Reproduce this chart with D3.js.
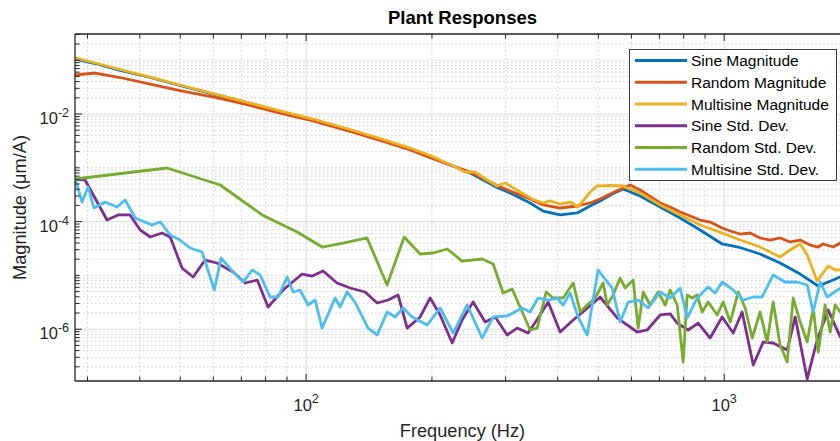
<!DOCTYPE html>
<html>
<head>
<meta charset="utf-8">
<script src="https://cdn.jsdelivr.net/npm/d3@7"></script>
<style>
  html, body { margin: 0; padding: 0; background: #fff; }
  svg { display: block; font-family: "Liberation Sans", Arial, Helvetica, sans-serif; }
</style>
</head>
<body>
<svg id="chart" width="840" height="441"></svg>
<script>
// ---- Data: frequency (Hz) and magnitude (um/A) ----
const magFreqSine = [28.0, 31.3, 35.9, 42.4, 49.9, 60.6, 73.5, 86.7, 103.9, 127.4, 150.3, 177.4, 198, 221.1, 246.9, 268.1, 286.3, 307.6, 343.5, 369, 405.3, 445, 478, 505, 539.7, 573.4, 629.5, 703, 784.9, 876.3, 989, 1081, 1219, 1361, 1520, 1679, 1774, 1895, 2001];
const magSine = [1.05e-1, 8.68e-2, 6.44e-2, 4.77e-2, 3.39e-2, 2.30e-2, 1.57e-2, 1.11e-2, 7.74e-3, 5.04e-3, 3.43e-3, 2.24e-3, 1.59e-3, 1.13e-3, 8.01e-4, 5.69e-4, 4.30e-4, 3.40e-4, 2.22e-4, 1.57e-4, 1.33e-4, 1.45e-4, 1.95e-4, 2.42e-4, 3.26e-4, 4.04e-4, 2.99e-4, 1.87e-4, 1.17e-4, 6.98e-5, 3.84e-5, 3.37e-5, 2.50e-5, 1.70e-5, 1.06e-5, 6.36e-6, 7.54e-6, 9.34e-6, 1.06e-5];

const magFreqRandom = [28.0, 31.3, 35.9, 42.4, 49.9, 60.6, 73.5, 86.7, 103.9, 127.4, 150.3, 177.4, 198, 221.1, 246.9, 268.1, 286.3, 307.6, 343.5, 369, 405.3, 445, 478, 505, 539.7, 573.4, 595.8, 629.5, 703, 742.8, 784.9, 829.2, 876.3, 925.7, 989, 1034, 1092, 1154, 1219, 1288, 1361, 1438, 1520, 1606, 1679, 1725, 1823, 1895, 2001];
const magRandom = [5.31e-2, 5.78e-2, 4.77e-2, 3.61e-2, 2.73e-2, 2.03e-2, 1.44e-2, 1.04e-2, 7.41e-3, 4.73e-3, 3.22e-3, 2.14e-3, 1.55e-3, 1.13e-3, 8.36e-4, 6.06e-4, 4.69e-4, 3.71e-4, 2.63e-4, 2.04e-4, 1.79e-4, 1.95e-4, 2.22e-4, 2.63e-4, 3.40e-4, 4.21e-4, 4.79e-4, 3.87e-4, 2.22e-4, 1.87e-4, 1.51e-4, 1.27e-4, 1.07e-4, 9.83e-5, 7.61e-5, 6.69e-5, 5.88e-5, 6.14e-5, 4.96e-5, 4.55e-5, 4.96e-5, 4.18e-5, 4.55e-5, 3.67e-5, 3.37e-5, 3.84e-5, 3.37e-5, 4.00e-5, 3.67e-5];

const magFreqMulti = [28.0, 31.3, 35.9, 42.4, 49.9, 60.6, 73.5, 86.7, 103.9, 127.4, 150.3, 177.4, 198, 221.1, 240.2, 253.7, 271, 286.3, 299.2, 325.1, 347.3, 369, 383.5, 405.3, 428.1, 447.3, 478, 496.8, 533.7, 573.4, 629.5, 703, 784.9, 876.3, 989, 1092, 1219, 1361, 1438, 1520, 1580, 1669, 1774, 1843, 2001];
const magMulti = [1.11e-1, 8.87e-2, 6.72e-2, 4.87e-2, 3.46e-2, 2.35e-2, 1.60e-2, 1.14e-2, 8.07e-3, 5.15e-3, 3.51e-3, 2.33e-3, 1.69e-3, 1.15e-3, 8.36e-4, 8.36e-4, 5.93e-4, 4.59e-4, 5.22e-4, 3.55e-4, 2.63e-4, 2.22e-4, 2.42e-4, 2.12e-4, 2.31e-4, 1.87e-4, 3.55e-4, 4.59e-4, 4.69e-4, 4.59e-4, 3.40e-4, 2.04e-4, 1.33e-4, 8.65e-5, 6.14e-5, 4.55e-5, 3.37e-5, 2.20e-5, 2.97e-5, 3.84e-5, 2.39e-5, 7.87e-6, 1.50e-5, 1.26e-5, 1.26e-5];

const stdFreqSine = [28.0, 29.6, 33.4, 35.5, 37.9, 40.1, 42.4, 45.2, 47.3, 50.5, 53.7, 57.3, 61.2, 66.9, 71.5, 76.4, 81.1, 88.1, 97.8, 103.4, 109.8, 118.6, 127.4, 138.4, 147.9, 157.1, 166.0, 174.5, 187.4, 198.0, 209.2, 223.6, 236.1, 250.9, 268.1, 283.3, 302.6, 319.8, 339.7, 358.9, 379.3, 405.3, 435.4, 465.1, 505.0, 554.6, 619.3, 654.5, 703.0, 742.8, 772.1, 820.2, 866.6, 925.7, 989.0, 1051, 1104, 1174, 1240, 1310, 1415, 1479, 1580, 1669, 1774, 1895, 2001];
const stdSine = [6.19e-4, 5.93e-4, 1.07e-4, 1.33e-4, 1.33e-4, 6.98e-5, 5.17e-5, 6.14e-5, 5.17e-5, 1.37e-5, 9.34e-6, 1.93e-5, 1.70e-5, 1.16e-5, 7.23e-6, 8.21e-6, 2.59e-6, 5.36e-6, 1.06e-5, 9.75e-6, 1.21e-5, 7.23e-6, 5.83e-6, 4.92e-6, 3.07e-6, 3.49e-6, 4.32e-6, 1.05e-6, 1.69e-6, 3.80e-6, 1.84e-6, 5.54e-7, 1.48e-6, 3.20e-6, 1.36e-6, 1.69e-6, 7.80e-7, 1.05e-6, 8.50e-7, 1.62e-6, 3.20e-6, 8.87e-7, 1.48e-6, 2.28e-6, 3.97e-6, 1.62e-6, 8.87e-7, 9.67e-7, 1.84e-6, 1.92e-6, 1.30e-6, 9.67e-7, 1.30e-6, 6.86e-7, 1.69e-6, 8.50e-7, 2.09e-6, 2.16e-7, 5.78e-7, 5.54e-7, 4.11e-7, 1.69e-6, 1.19e-7, 6.30e-7, 2.28e-6, 7.16e-7, 9.67e-7];

const stdFreqRandom = [28.0, 46.5, 62.3, 78.5, 95.2, 109.2, 122.6, 139.9, 156.2, 171.6, 187.4, 201.3, 217.5, 236.1, 263.7, 280.2, 296.0, 311.1, 343.5, 357.0, 375.1, 389.9, 412.0, 435.4, 452.5, 470.2, 491.3, 513.5, 525.0, 542.6, 563.9, 579.7, 605.8, 622.7, 640.1, 665.3, 695.3, 722.6, 742.8, 772.1, 797.9, 815.7, 838.4, 861.8, 885.9, 915.6, 962.3, 994.5, 1034, 1081, 1123, 1167, 1219, 1267, 1310, 1361, 1415, 1463, 1520, 1580, 1633, 1679, 1744, 1793, 1843, 1895, 2001];
const stdRandom = [6.19e-4, 9.92e-4, 4.79e-4, 1.33e-4, 6.41e-5, 3.37e-5, 4.00e-5, 4.96e-5, 6.63e-6, 5.17e-5, 2.50e-5, 2.61e-5, 3.10e-5, 1.85e-5, 2.02e-5, 1.63e-5, 4.71e-6, 5.59e-6, 9.67e-7, 1.05e-6, 4.92e-6, 3.80e-6, 3.80e-6, 7.23e-6, 2.09e-6, 2.82e-6, 3.80e-6, 7.23e-6, 2.82e-6, 4.32e-6, 8.95e-6, 5.83e-6, 8.21e-6, 1.05e-6, 4.92e-6, 2.82e-6, 4.92e-6, 2.82e-6, 5.36e-6, 2.82e-6, 2.46e-7, 4.32e-6, 3.80e-6, 4.32e-6, 2.09e-6, 3.20e-6, 1.84e-6, 3.20e-6, 1.36e-6, 4.92e-6, 2.48e-6, 6.86e-7, 2.09e-6, 5.78e-7, 3.20e-6, 5.09e-7, 2.46e-7, 3.80e-6, 1.36e-6, 5.78e-7, 2.48e-6, 3.77e-7, 2.82e-6, 8.87e-7, 2.82e-6, 2.09e-6, 3.49e-6];

const stdFreqMulti = [28.0, 29.1, 30.1, 31.1, 33.0, 35.3, 36.9, 39.0, 42.8, 44.8, 47.3, 49.9, 52.8, 56.4, 60.3, 62.6, 66.9, 70.7, 74.3, 77.6, 82.0, 85.7, 90.1, 93.1, 96.7, 101.1, 105.1, 109.2, 117.3, 120.6, 125.3, 130.9, 140.7, 147.9, 156.2, 163.3, 170.7, 179.3, 194.8, 209.2, 224.8, 242.8, 263.7, 280.2, 302.6, 328.7, 343.5, 358.9, 379.3, 398.6, 412.0, 428.1, 447.3, 470.2, 499.4, 539.7, 563.9, 589.3, 622.7, 658.1, 703.0, 742.8, 784.9, 815.7, 861.8, 915.6, 951.7, 989.0, 1051, 1111, 1174, 1233, 1310, 1399, 1495, 1580, 1633, 1697, 1764, 1823, 1895, 2001];
const stdMulti = [6.46e-4, 2.31e-4, 4.40e-4, 1.79e-4, 2.31e-4, 1.87e-4, 2.52e-4, 1.17e-4, 8.65e-5, 9.83e-5,
  5.64e-5, 4.55e-5, 3.23e-5, 2.72e-5, 5.36e-6, 2.11e-5, 1.16e-5, 7.54e-6, 1.26e-5, 1.02e-5,
  3.97e-6, 3.97e-6, 9.34e-6, 4.92e-6, 5.36e-6, 2.82e-6, 3.49e-6, 1.05e-6, 3.80e-6, 2.59e-6,
  4.92e-6, 3.20e-6, 1.05e-6, 7.80e-7, 2.09e-6, 1.69e-6, 2.48e-6, 1.69e-6, 1.20e-6, 2.48e-6,
  8.50e-7, 2.82e-6, 6.86e-7, 1.69e-6, 1.76e-6, 2.48e-6, 2.09e-6, 3.80e-6, 3.49e-6, 3.80e-6,
  2.82e-6, 4.71e-6, 1.69e-6, 7.80e-7, 1.26e-5, 5.83e-6, 1.36e-6, 3.20e-6, 3.49e-6, 2.48e-6,
  4.92e-6, 3.80e-6, 5.83e-6, 1.62e-6, 3.80e-6, 6.09e-6, 4.71e-6, 7.54e-6, 5.36e-6, 3.49e-6,
  3.97e-6, 3.97e-6, 1.02e-5, 7.54e-6, 7.54e-6, 6.63e-6, 2.09e-6, 7.54e-6, 3.97e-6, 4.71e-6,
  5.83e-6, 5.36e-6];

const seriesNames = ["Sine Magnitude", "Random Magnitude", "Multisine Magnitude",
                     "Sine Std. Dev.", "Random Std. Dev.", "Multisine Std. Dev."];
const xTickValues = [100, 1000];
const xTickExponents = ["2", "3"];
const yTickValues = [1e-6, 1e-4, 1e-2];
const yTickExponents = ["-6", "-4", "-2"];
const xDomain = [28, 2000];
const yDomain = [1.09e-7, 0.307];

// ---- Styling ----
const colors = ["#0072BD", "#D95319", "#EDB120", "#7E2F8E", "#77AC30", "#4DBEEE"];
const axisColor = "#262626";
const plot = { left: 75, right: 850, top: 34, bottom: 381 };

const svg = d3.select("#chart");
const x = d3.scaleLog().domain(xDomain).range([plot.left, plot.right]);
const y = d3.scaleLog().domain(yDomain).range([plot.bottom, plot.top]);

// log-scale minor positions (k * 10^n)
function logPositions(domain) {
  const out = [];
  const lo = Math.floor(Math.log10(domain[0])), hi = Math.ceil(Math.log10(domain[1]));
  for (let d = lo; d <= hi; d++) {
    for (let k = 1; k <= 9; k++) {
      const v = k * Math.pow(10, d);
      if (v >= domain[0] * 0.9999 && v <= domain[1] * 1.0001) out.push(v);
    }
  }
  return out;
}
const xAll = logPositions(xDomain);
const yAll = logPositions(yDomain);
const isMajor = (v, list) => list.some(t => Math.abs(v / t - 1) < 1e-6);
const xMinor = xAll.filter(v => !isMajor(v, xTickValues));
const yMinor = yAll.filter(v => !isMajor(v, yTickValues));

// ---- Grid ----
const grid = svg.append("g");
grid.selectAll(".gx-minor").data(xMinor).join("line")
  .attr("x1", d => x(d)).attr("x2", d => x(d))
  .attr("y1", plot.top).attr("y2", plot.bottom)
  .attr("stroke", "#c4c4c4").attr("stroke-width", 0.8).attr("stroke-dasharray", "1.5,2.5");
grid.selectAll(".gy-minor").data(yMinor).join("line")
  .attr("x1", plot.left).attr("x2", plot.right)
  .attr("y1", d => y(d)).attr("y2", d => y(d))
  .attr("stroke", "#c4c4c4").attr("stroke-width", 0.8).attr("stroke-dasharray", "1.5,2.5");
grid.selectAll(".gx-major").data(xTickValues).join("line")
  .attr("x1", d => x(d)).attr("x2", d => x(d))
  .attr("y1", plot.top).attr("y2", plot.bottom)
  .attr("stroke", "#dcdcdc").attr("stroke-width", 1);
grid.selectAll(".gy-major").data(yTickValues).join("line")
  .attr("x1", plot.left).attr("x2", plot.right)
  .attr("y1", d => y(d)).attr("y2", d => y(d))
  .attr("stroke", "#dcdcdc").attr("stroke-width", 1);

// ---- Curves ----
svg.append("clipPath").attr("id", "plotClip").append("rect")
  .attr("x", plot.left).attr("y", plot.top)
  .attr("width", plot.right - plot.left).attr("height", plot.bottom - plot.top);

const series = [
  [magFreqSine, magSine], [magFreqRandom, magRandom], [magFreqMulti, magMulti],
  [stdFreqSine, stdSine], [stdFreqRandom, stdRandom], [stdFreqMulti, stdMulti]
].map(([f, v], i) => ({ name: seriesNames[i], color: colors[i], points: f.map((fr, j) => ({ f: fr, v: v[j] })) }));

const line = d3.line().x(d => x(d.f)).y(d => y(d.v));
svg.append("g").attr("clip-path", "url(#plotClip)")
  .selectAll("path").data(series).join("path")
  .attr("d", d => line(d.points))
  .attr("fill", "none").attr("stroke", d => d.color)
  .attr("stroke-width", 2.8).attr("stroke-linejoin", "round").attr("stroke-linecap", "round");

// ---- Axes (ticks inward, box) ----
const axes = svg.append("g");
const tickLine = (sel, data, x1, y1, x2, y2) => sel.selectAll(null).data(data).join("line")
  .attr("x1", x1).attr("y1", y1).attr("x2", x2).attr("y2", y2)
  .attr("stroke", axisColor).attr("stroke-width", 1);
// bottom and top
tickLine(axes, xMinor, d => x(d), plot.bottom, d => x(d), plot.bottom - 4.5);
tickLine(axes, xTickValues, d => x(d), plot.bottom, d => x(d), plot.bottom - 7);
tickLine(axes, xMinor, d => x(d), plot.top, d => x(d), plot.top + 4.5);
tickLine(axes, xTickValues, d => x(d), plot.top, d => x(d), plot.top + 7);
// left
tickLine(axes, yMinor, plot.left, d => y(d), plot.left + 4.5, d => y(d));
tickLine(axes, yTickValues, plot.left, d => y(d), plot.left + 7, d => y(d));

axes.append("line").attr("x1", plot.left).attr("x2", plot.right)
  .attr("y1", plot.bottom).attr("y2", plot.bottom).attr("stroke", axisColor).attr("stroke-width", 1.3);
axes.append("line").attr("x1", plot.left).attr("x2", plot.right)
  .attr("y1", plot.top).attr("y2", plot.top).attr("stroke", axisColor).attr("stroke-width", 1.3);
axes.append("line").attr("x1", plot.left).attr("x2", plot.left)
  .attr("y1", plot.top).attr("y2", plot.bottom).attr("stroke", axisColor).attr("stroke-width", 1.3);

// tick labels 10^n
const xl = axes.selectAll(".xlab").data(xTickValues).join("text")
  .attr("x", d => x(d)).attr("y", plot.bottom + 30)
  .attr("text-anchor", "middle").attr("fill", axisColor).attr("font-size", 16.5);
xl.append("tspan").text("10");
xl.append("tspan").attr("dy", -8).attr("font-size", 12.5).text((d, i) => xTickExponents[i]);

const yl = axes.selectAll(".ylab").data(yTickValues).join("text")
  .attr("x", plot.left - 6).attr("y", d => y(d) + 10)
  .attr("text-anchor", "end").attr("fill", axisColor).attr("font-size", 16.5);
yl.append("tspan").text("10");
yl.append("tspan").attr("dy", -7).attr("font-size", 12.5).text((d, i) => yTickExponents[i]);

// ---- Titles ----
svg.append("text").attr("x", (plot.left + plot.right) / 2).attr("y", 24)
  .attr("text-anchor", "middle").attr("font-weight", "bold").attr("font-size", 18.5)
  .attr("fill", "#000").text("Plant Responses");
svg.append("text").attr("x", (plot.left + plot.right) / 2).attr("y", 436.5)
  .attr("text-anchor", "middle").attr("font-size", 18.2).attr("fill", axisColor)
  .text("Frequency (Hz)");
svg.append("text").attr("transform", `translate(26,${(plot.top + plot.bottom) / 2}) rotate(-90)`)
  .attr("text-anchor", "middle").attr("font-size", 18.2).attr("fill", axisColor)
  .text("Magnitude (μm/A)");

// ---- Legend ----
const legend = svg.append("g");
legend.append("rect").attr("x", 629.5).attr("y", 49.5).attr("width", 207).attr("height", 131)
  .attr("fill", "#fff").attr("stroke", axisColor).attr("stroke-width", 0.9);
const items = legend.selectAll(".item").data(series).join("g")
  .attr("transform", (d, i) => `translate(0,${60.5 + i * 21.75})`);
items.append("line").attr("x1", 635).attr("x2", 687).attr("y1", 0).attr("y2", 0)
  .attr("stroke", d => d.color).attr("stroke-width", 2.8);
items.append("text").attr("x", 691).attr("y", 5.6).attr("font-size", 15.5)
  .attr("fill", "#000").text(d => d.name);
</script>
</body>
</html>
